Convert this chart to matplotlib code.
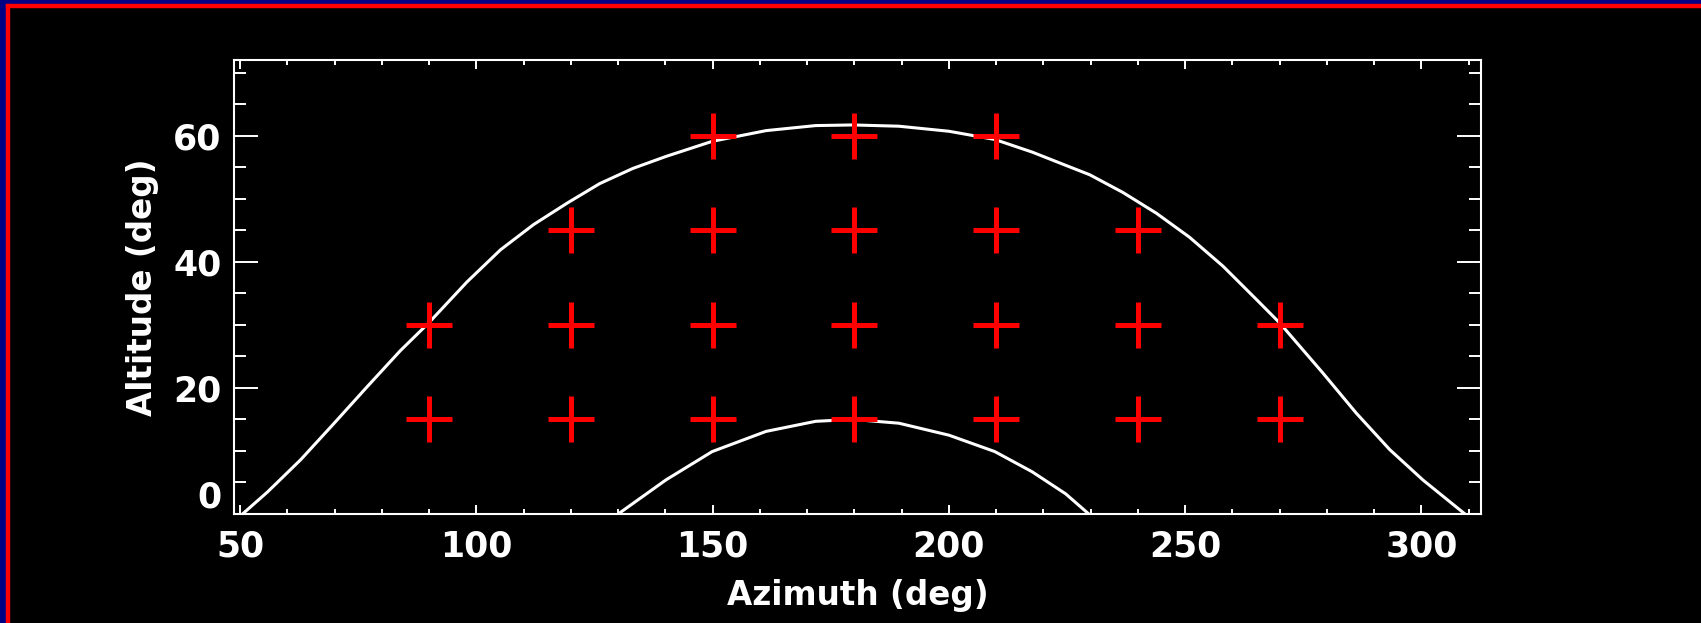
import matplotlib.pyplot as plt
from matplotlib.patches import Rectangle

# sun path curves (azimuth, altitude in deg)
outer_az = [50.5, 55.8, 62.8, 69.9, 76.9, 83.9, 89.9, 98.0, 105.1, 112.1, 119.2, 126.1,
            133.1, 140.1, 149.9, 161.3, 171.8, 179.7, 189.4, 200.0, 209.7, 217.6, 224.7,
            229.8, 236.8, 243.9, 250.9, 258.0, 265.1, 270.0, 279.2, 286.2, 293.3, 300.3, 309.2]
outer_alt = [0, 3.5, 8.6, 14.4, 20.2, 25.9, 30.3, 36.8, 41.9, 45.9, 49.3, 52.4,
             54.8, 56.7, 59.1, 60.8, 61.6, 61.7, 61.5, 60.7, 59.4, 57.4, 55.3,
             53.8, 51.0, 47.7, 43.9, 39.3, 34.0, 30.3, 22.3, 16.0, 10.2, 5.4, 0]

inner_az = [130.0, 140.1, 149.9, 161.3, 171.8, 179.7, 189.4, 200.0, 209.7, 217.6, 224.7, 229.6]
inner_alt = [0, 5.4, 9.9, 13.1, 14.7, 15.0, 14.4, 12.5, 9.9, 6.7, 3.2, 0]

# pointing grid
grid_az = [90, 120, 150, 180, 210, 240, 270,
           90, 120, 150, 180, 210, 240, 270,
           120, 150, 180, 210, 240,
           150, 180, 210]
grid_alt = [15, 15, 15, 15, 15, 15, 15,
            30, 30, 30, 30, 30, 30, 30,
            45, 45, 45, 45, 45,
            60, 60, 60]

plt.rcParams['font.family'] = ['DejaVu Sans']

fig = plt.figure(figsize=(17.01, 6.23), dpi=100, facecolor='black')
W, H = 1701, 623

# blue / red frame on top and left
fig.patches.append(Rectangle((0, 0), 6 / W, 1, transform=fig.transFigure, color='#000085', zorder=0))
fig.patches.append(Rectangle((0, 1 - 4 / H), 1, 4 / H, transform=fig.transFigure, color='#000085', zorder=0))
fig.patches.append(Rectangle((6 / W, 0), 3 / W, 1 - 4 / H, transform=fig.transFigure, color='#ff0000', zorder=1))
fig.patches.append(Rectangle((6 / W, 1 - 7 / H), 1 - 6 / W, 3 / H, transform=fig.transFigure, color='#ff0000', zorder=1))

ax = fig.add_axes([234 / W, 1 - 514 / H, (1481 - 234) / W, (514 - 60) / H])
ax.set_facecolor('black')

ax.plot(outer_az, outer_alt, color='white', lw=2.2, solid_joinstyle='round')
ax.plot(inner_az, inner_alt, color='white', lw=2.2, solid_joinstyle='round')
ax.plot(grid_az, grid_alt, ls='none', marker='+', ms=33, mew=3.6, color='#ff0000')

ax.set_xlim(48.7, 312.6)
ax.set_ylim(0, 72)
ax.set_xticks([50, 100, 150, 200, 250, 300])
ax.set_xticks(range(50, 311, 10), minor=True)
ax.set_yticks([0, 20, 40, 60])
ax.set_yticks(range(0, 71, 5), minor=True)

for s in ax.spines.values():
    s.set_color('white')
    s.set_linewidth(1.5)

ax.tick_params(which='both', colors='white', direction='in', top=True, right=True,
               width=1.4, labelsize=25)
ax.tick_params(axis='x', which='major', length=6.5, pad=11)
ax.tick_params(axis='x', which='minor', length=3.4)
ax.tick_params(axis='y', which='major', length=17.5, pad=9)
ax.tick_params(axis='y', which='minor', length=8.6)

for lab in ax.get_xticklabels() + ax.get_yticklabels():
    lab.set_fontweight('bold')
# the zero label sits above the axis line
ax.get_yticklabels()[0].set_va('bottom')

ax.set_xlabel('Azimuth (deg)', color='white', fontsize=23.5, fontweight='bold', labelpad=11)
ax.set_ylabel('Altitude (deg)', color='white', fontsize=23.5, fontweight='bold', labelpad=10)

fig.savefig('out.png', dpi=100, facecolor='black')
